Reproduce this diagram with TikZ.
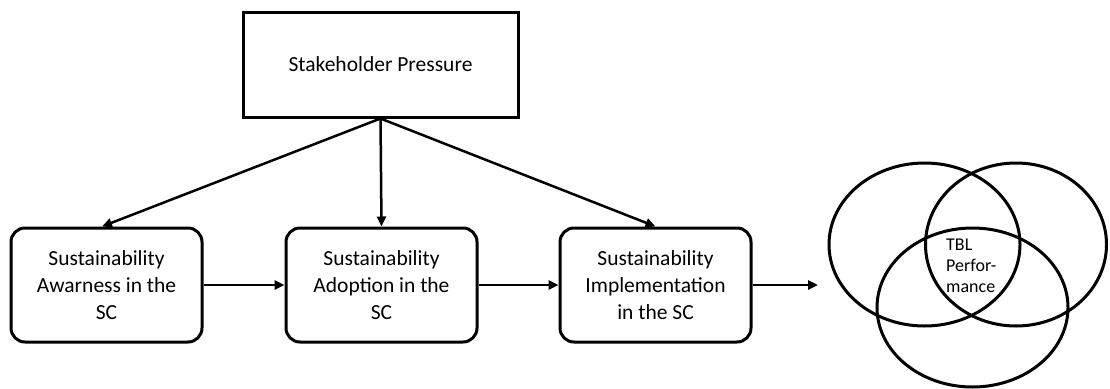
\documentclass[tikz,border=0pt]{standalone}
\usepackage{fontspec}
\setmainfont{Carlito}
\usetikzlibrary{arrows.meta,shapes.geometric}
\begin{document}
\begin{tikzpicture}[x=1pt,y=-1pt,
  topbox/.style={draw,line width=3pt,minimum width=275pt,minimum height=105pt,font=\fontsize{21.5}{27}\selectfont},
  stagebox/.style={draw,line width=3pt,rounded corners=14pt,minimum width=191pt,minimum height=114pt,align=center,font=\fontsize{21.5}{27}\selectfont},
  venn/.style={draw,line width=3pt,ellipse,inner sep=0pt},
  conn/.style={line width=2.5pt,-{Triangle[length=10pt,width=9pt]}}]
\useasboundingbox (0,0) rectangle (1110,388);
\node[topbox] (sp) at (380.5,64.5) {Stakeholder Pressure};
\node[stagebox] (b1) at (106.5,285) {Sustainability\\Awarness in the\\SC};
\node[stagebox] (b2) at (381.5,285) {Sustainability\\Adoption in the\\SC};
\node[stagebox] (b3) at (655.5,285) {Sustainability\\Implementation\\in the SC};
\node[venn,minimum width=191pt,minimum height=163pt] (e1) at (924.5,244.5) {};
\node[venn,minimum width=181pt,minimum height=163pt] (e2) at (1016,244.5) {};
\node[venn,minimum width=191pt,minimum height=159pt] (e3) at (972.5,307.5) {};
\node[anchor=west,align=left,font=\fontsize{18}{21}\selectfont,inner sep=0pt] (tbl) at (946,266) {TBL\\Perfor-\\mance};
\coordinate (vin) at (818,285);
\draw[conn] (sp.south) -- (b1.north -| 102,0);
\draw[conn] (sp.south) -- (b2.north);
\draw[conn] (sp.south) -- (b3.north);
\draw[conn] (b1.east) -- (b2.west);
\draw[conn] (b2.east) -- (b3.west);
\draw[conn] (b3.east) -- (vin);
\end{tikzpicture}
\end{document}
